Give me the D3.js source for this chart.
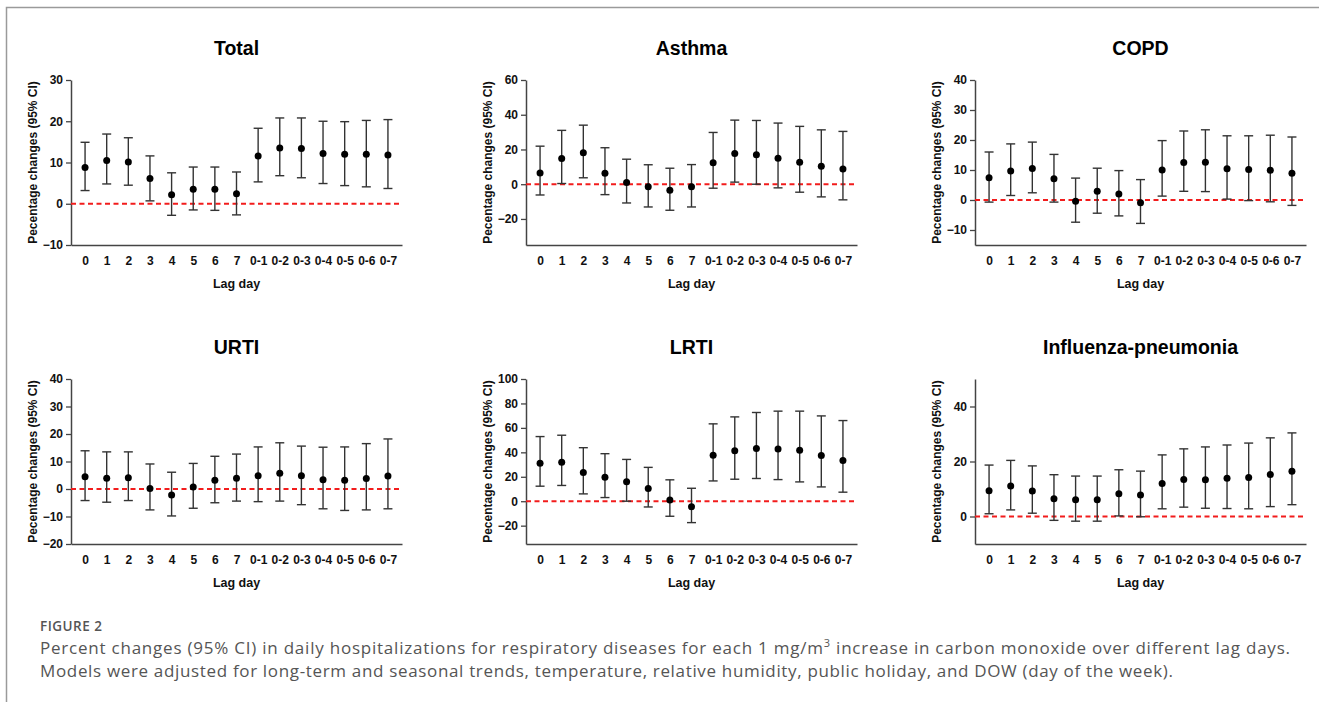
<!DOCTYPE html>
<html>
<head>
<meta charset="utf-8">
<script src="https://cdn.jsdelivr.net/npm/d3@7"></script>
<style>
  html, body { margin: 0; padding: 0; background: #fff; }
  svg { display: block; }
</style>
</head>
<body>
<script>
// lag days shared by every panel
const lags = ["0", "1", "2", "3", "4", "5", "6", "7", "0-1", "0-2", "0-3", "0-4", "0-5", "0-6", "0-7"];

const titles = ["Total", "Asthma", "COPD", "URTI", "LRTI", "Influenza-pneumonia"];

// Total
const totalEst = [8.8, 10.5, 10.1, 6.1, 2.2, 3.5, 3.5, 2.4, 11.6, 13.5, 13.4, 12.2, 12.0, 12.0, 11.8];
const totalLo = [3.2, 4.8, 4.5, 0.7, -2.8, -1.5, -1.6, -2.7, 5.3, 6.8, 6.3, 4.9, 4.4, 4.1, 3.7];
const totalHi = [14.9, 16.9, 16.0, 11.6, 7.5, 8.9, 8.9, 7.7, 18.3, 20.8, 20.8, 20.0, 19.9, 20.2, 20.4];
const totalTicks = [-10, 0, 10, 20, 30];

// Asthma
const asthmaEst = [6.5, 14.8, 18.1, 6.3, 1.0, -1.5, -3.5, -1.5, 12.3, 17.7, 16.9, 15.0, 12.7, 10.4, 8.8];
const asthmaLo = [-6.2, 0.4, 3.7, -6.0, -10.8, -13.1, -15.0, -13.1, -2.3, 1.2, 0.0, -2.1, -4.6, -7.3, -9.0];
const asthmaHi = [21.9, 31.0, 34.0, 21.0, 14.4, 11.2, 9.2, 11.3, 29.8, 36.9, 36.7, 35.2, 33.3, 31.3, 30.4];
const asthmaTicks = [-20, 0, 20, 40, 60];

// COPD
const copdEst = [7.4, 9.7, 10.5, 7.1, -0.4, 2.9, 2.0, -0.9, 10.0, 12.5, 12.6, 10.4, 10.2, 9.9, 8.9];
const copdLo = [-0.7, 1.5, 2.4, -0.7, -7.4, -4.4, -5.3, -7.8, 1.3, 2.9, 2.8, 0.3, -0.2, -0.6, -1.8];
const copdHi = [16.0, 18.7, 19.3, 15.2, 7.3, 10.6, 9.8, 6.8, 19.8, 23.0, 23.4, 21.4, 21.4, 21.6, 21.0];
const copdTicks = [-10, 0, 10, 20, 30, 40];

// URTI
const urtiEst = [4.5, 3.9, 4.1, 0.2, -2.2, 0.7, 3.2, 3.9, 4.8, 5.7, 4.8, 3.4, 3.2, 3.8, 4.7];
const urtiLo = [-4.2, -4.8, -4.2, -7.6, -9.8, -7.0, -5.0, -4.4, -4.6, -4.4, -5.7, -7.2, -7.8, -7.6, -7.2];
const urtiHi = [13.9, 13.5, 13.5, 9.1, 6.1, 9.3, 11.9, 12.7, 15.3, 16.8, 15.6, 15.2, 15.3, 16.5, 18.2];
const urtiTicks = [-20, -10, 0, 10, 20, 30, 40];

// LRTI
const lrtiEst = [31.0, 31.8, 23.6, 19.7, 15.9, 10.4, 1.1, -4.6, 37.7, 41.2, 43.1, 42.8, 41.7, 37.4, 33.3];
const lrtiLo = [12.3, 12.9, 6.0, 3.0, 0.0, -4.7, -12.3, -17.5, 16.6, 18.0, 18.6, 17.7, 15.8, 11.7, 7.4];
const lrtiHi = [52.9, 54.0, 43.8, 38.9, 34.2, 27.7, 17.5, 10.6, 63.3, 69.0, 72.6, 73.7, 73.7, 69.8, 66.0];
const lrtiTicks = [-20, 0, 20, 40, 60, 80, 100];

// Influenza-pneumonia
const fluEst = [9.4, 11.1, 9.3, 6.5, 6.1, 6.1, 8.3, 7.8, 12.0, 13.5, 13.4, 13.9, 14.2, 15.3, 16.5];
const fluLo = [1.0, 2.4, 1.2, -1.4, -1.7, -1.7, 0.2, -0.1, 2.8, 3.4, 3.0, 2.9, 2.8, 3.6, 4.3];
const fluHi = [18.7, 20.4, 18.4, 15.2, 14.7, 14.7, 17.0, 16.5, 22.4, 24.6, 25.3, 26.0, 26.7, 28.6, 30.4];
const fluTicks = [0, 20, 40];

const panels = [
    { est: totalEst, lo: totalLo, hi: totalHi, domain: [-10, 30], ticks: totalTicks },
    { est: asthmaEst, lo: asthmaLo, hi: asthmaHi, domain: [-35, 60], ticks: asthmaTicks },
    { est: copdEst, lo: copdLo, hi: copdHi, domain: [-15, 40], ticks: copdTicks },
    { est: urtiEst, lo: urtiLo, hi: urtiHi, domain: [-20, 40], ticks: urtiTicks },
    { est: lrtiEst, lo: lrtiLo, hi: lrtiHi, domain: [-35, 100], ticks: lrtiTicks },
    { est: fluEst, lo: fluLo, hi: fluHi, domain: [-10, 50], ticks: fluTicks }
];

const W = 1319, H = 702;
const colX = [71, 526, 975];
const plotW = 331;
const rowY = [[80, 245], [379, 544]];
const font = "'Liberation Sans', Arial, sans-serif";

const svg = d3.select("body").append("svg")
    .attr("width", W)
    .attr("height", H);

// figure frame (left + top)
svg.append("path")
    .attr("d", `M6.5,${H} V7.5 H${W}`)
    .attr("fill", "none")
    .attr("stroke", "#9a9a9a")
    .attr("stroke-width", 1.5);

function drawPanel(p, i) {
    const x0 = colX[i % 3];
    const [yt, yb] = rowY[Math.floor(i / 3)];
    const g = svg.append("g");

    const x = d3.scalePoint().domain(lags).range([x0, x0 + plotW]).padding(0.65);
    const y = d3.scaleLinear().domain(p.domain).range([yb, yt]);

    // title
    g.append("text")
        .attr("x", x0 + plotW / 2)
        .attr("y", yt - 25)
        .attr("text-anchor", "middle")
        .style("font-family", font)
        .style("font-weight", "bold")
        .style("font-size", "19.5px")
        .text(titles[i]);

    // y axis
    const yAxis = g.append("g")
        .attr("transform", `translate(${x0},0)`)
        .call(d3.axisLeft(y).tickValues(p.ticks).tickSize(5).tickSizeOuter(0).tickPadding(3));
    yAxis.select(".domain").attr("stroke", "#444").attr("stroke-width", 1.5);
    yAxis.selectAll(".tick line").attr("stroke", "#444").attr("stroke-width", 1.3);
    yAxis.selectAll("text")
        .style("font-family", font)
        .style("font-weight", "bold")
        .style("font-size", "12px")
        .attr("fill", "#111");

    // x axis
    const xAxis = g.append("g")
        .attr("transform", `translate(0,${yb})`)
        .call(d3.axisBottom(x).tickSize(0).tickSizeOuter(0).tickPadding(11));
    xAxis.select(".domain").attr("stroke", "#444").attr("stroke-width", 1.5);
    xAxis.selectAll("text")
        .style("font-family", font)
        .style("font-weight", "bold")
        .style("font-size", "12px")
        .attr("fill", "#111");

    // axis titles
    g.append("text")
        .attr("x", x0 + plotW / 2)
        .attr("y", yb + 43)
        .attr("text-anchor", "middle")
        .style("font-family", font)
        .style("font-weight", "bold")
        .style("font-size", "12.5px")
        .attr("fill", "#111")
        .text("Lag day");

    g.append("text")
        .attr("transform", `translate(${x0 - 34},${(yt + yb) / 2}) rotate(-90)`)
        .attr("text-anchor", "middle")
        .style("font-family", font)
        .style("font-weight", "bold")
        .style("font-size", "12px")
        .attr("fill", "#111")
        .text("Pecentage changes (95% CI)");

    // reference line at zero
    g.append("line")
        .attr("x1", x0)
        .attr("x2", x0 + plotW)
        .attr("y1", y(0))
        .attr("y2", y(0))
        .attr("stroke", "#f21c1c")
        .attr("stroke-width", 2)
        .attr("stroke-dasharray", "5,3.5");

    // error bars
    const capW = 4.5;
    const bars = g.selectAll(".bar")
        .data(lags.map((d, k) => ({ lag: d, est: p.est[k], lo: p.lo[k], hi: p.hi[k] })))
        .enter().append("g")
        .attr("stroke", "#333")
        .attr("stroke-width", 1.4);

    bars.append("line")
        .attr("x1", d => x(d.lag)).attr("x2", d => x(d.lag))
        .attr("y1", d => y(d.lo)).attr("y2", d => y(d.hi));
    bars.append("line")
        .attr("x1", d => x(d.lag) - capW).attr("x2", d => x(d.lag) + capW)
        .attr("y1", d => y(d.hi)).attr("y2", d => y(d.hi));
    bars.append("line")
        .attr("x1", d => x(d.lag) - capW).attr("x2", d => x(d.lag) + capW)
        .attr("y1", d => y(d.lo)).attr("y2", d => y(d.lo));

    g.selectAll(".pt")
        .data(p.est)
        .enter().append("circle")
        .attr("cx", (d, k) => x(lags[k]))
        .attr("cy", d => y(d))
        .attr("r", 3.5)
        .attr("fill", "#000");
}

panels.forEach(drawPanel);

// caption
const capFont = "'Open Sans', 'Noto Sans', sans-serif";
svg.append("text")
    .attr("x", 40)
    .attr("y", 631)
    .style("font-family", capFont)
    .style("font-weight", "600")
    .style("font-size", "13.5px")
    .attr("textLength", 62)
    .attr("fill", "#555")
    .text("FIGURE 2");

const line1 = svg.append("text")
    .attr("x", 40)
    .attr("y", 654)
    .attr("textLength", 1250)
    .style("font-family", capFont)
    .style("font-size", "17px")
    .attr("fill", "#555");
line1.append("tspan").text("Percent changes (95% CI) in daily hospitalizations for respiratory diseases for each 1 mg/m");
line1.append("tspan").attr("dy", -7).style("font-size", "11px").text("3");
line1.append("tspan").attr("dy", 7).text(" increase in carbon monoxide over different lag days.");

svg.append("text")
    .attr("x", 40)
    .attr("y", 677)
    .attr("textLength", 1133)
    .style("font-family", capFont)
    .style("font-size", "17px")
    .attr("fill", "#555")
    .text("Models were adjusted for long-term and seasonal trends, temperature, relative humidity, public holiday, and DOW (day of the week).");
</script>
</body>
</html>
